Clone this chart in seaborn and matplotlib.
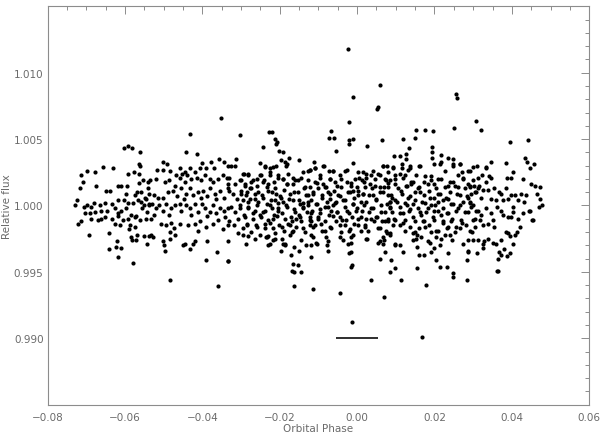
import matplotlib
matplotlib.use("Agg")
import matplotlib.pyplot as plt
import numpy as np
import pandas as pd
import seaborn as sns
from matplotlib.ticker import FixedLocator, FuncFormatter, MultipleLocator

# Light-curve points, grouped by phase strip
phase_a = [-0.0604, -0.0592, -0.0581, -0.0562, -0.0658, -0.0630, -0.0564, -0.0561, -0.0698, -0.0677, -0.0713, -0.0592, -0.0578, -0.0565, -0.0709, -0.0674, -0.0717, -0.0554, -0.0541, -0.0564, -0.0618, -0.0611, -0.0596,
           -0.0650, -0.0639, -0.0597, -0.0568, -0.0560, -0.0575, -0.0549, -0.0538,
           -0.0724, -0.0729, -0.0706, -0.0698, -0.0689, -0.0680, -0.0666, -0.0653, -0.0635, -0.0618, -0.0604, -0.0592, -0.0579, -0.0566, -0.0558, -0.0545, -0.0539,
           -0.0704, -0.0691, -0.0677, -0.0661, -0.0646, -0.0627, -0.0618, -0.0610, -0.0597, -0.0584, -0.0571, -0.0556, -0.0542, -0.0551,
           -0.0713, -0.0722, -0.0687, -0.0670, -0.0661, -0.0651, -0.0635, -0.0618, -0.0605, -0.0592, -0.0575, -0.0562, -0.0545,
           -0.0627, -0.0614, -0.0588, -0.0590, -0.0575,
           -0.0694, -0.0641, -0.0584, -0.0582, -0.0573, -0.0568, -0.0551, -0.0538, -0.0544,
           -0.0622, -0.0642, -0.0624, -0.0610, -0.0619, -0.0579]
flux_a = [1.0043, 1.0045, 1.0043, 1.0040, 1.0029, 1.0028, 1.0031, 1.0030, 1.0026, 1.0025, 1.0023, 1.0024, 1.0025, 1.0024, 1.0018, 1.0015, 1.0013, 1.0019, 1.0018, 1.0017, 1.0015, 1.0015, 1.0015,
          1.0011, 1.0011, 1.0009, 1.0010, 1.0010, 1.0008, 1.0006, 1.0009,
          1.0004, 1.0000, 0.9999, 1.0000, 0.9999, 1.0002, 1.0000, 1.0002, 1.0001, 1.0004, 1.0004, 1.0002, 1.0002, 1.0004, 1.0003, 1.0005, 1.0001,
          0.9994, 0.9994, 0.9995, 0.9996, 0.9996, 0.9998, 0.9994, 0.9996, 0.9998, 0.9993, 0.9992, 0.9998, 0.9995, 1.0000,
          0.9988, 0.9986, 0.9990, 0.9989, 0.9990, 0.9991, 0.9990, 0.9992, 0.9989, 0.9990, 0.9991, 0.9989, 0.9990,
          0.9986, 0.9985, 0.9985, 0.9982, 0.9984,
          0.9978, 0.9979, 0.9976, 0.9974, 0.9974, 0.9978, 0.9977, 0.9977, 0.9971,
          0.9973, 0.9967, 0.9969, 0.9968, 0.9961, 0.9957]

phase_b = [-0.0353, -0.0431, -0.0443, -0.0413,
           -0.0503, -0.0492, -0.0518, -0.0503, -0.0484,
           -0.0457, -0.0446, -0.0431, -0.0418, -0.0406, -0.0400, -0.0390, -0.0379, -0.0370, -0.0356, -0.0344, -0.0334,
           -0.0536, -0.0519, -0.0498, -0.0487, -0.0468, -0.0459, -0.0453, -0.0439, -0.0429, -0.0413, -0.0403, -0.0393, -0.0381, -0.0373, -0.0360, -0.0347, -0.0336, -0.0334, -0.0472, -0.0444,
           -0.0541, -0.0525, -0.0515, -0.0489, -0.0476, -0.0465, -0.0455, -0.0442, -0.0433, -0.0424, -0.0411, -0.0399, -0.0387, -0.0381, -0.0368, -0.0355, -0.0344, -0.0334, -0.0502, -0.0448, -0.0403, -0.0364,
           -0.0539, -0.0531, -0.0519, -0.0511, -0.0502, -0.0493, -0.0481, -0.0470, -0.0459, -0.0455, -0.0442, -0.0431, -0.0420, -0.0411, -0.0401, -0.0393, -0.0381, -0.0373, -0.0364, -0.0355, -0.0344, -0.0334, -0.0524, -0.0487, -0.0429, -0.0387, -0.0341,
           -0.0532, -0.0506, -0.0493, -0.0481, -0.0474, -0.0459, -0.0437, -0.0420, -0.0407, -0.0390, -0.0373, -0.0360, -0.0347, -0.0334, -0.0485, -0.0411,
           -0.0532, -0.0528, -0.0502, -0.0499, -0.0485, -0.0498, -0.0472, -0.0450, -0.0444, -0.0433, -0.0424, -0.0420, -0.0387, -0.0362, -0.0334,
           -0.0392, -0.0334, -0.0483, -0.0360]
flux_b = [1.0066, 1.0054, 1.0040, 1.0039,
          1.0033, 1.0031, 1.0027, 1.0027, 1.0026,
          1.0028, 1.0025, 1.0028, 1.0025, 1.0028, 1.0032, 1.0028, 1.0033, 1.0028, 1.0035, 1.0033, 1.0030,
          1.0019, 1.0020, 1.0018, 1.0019, 1.0023, 1.0021, 1.0024, 1.0023, 1.0020, 1.0021, 1.0019, 1.0023, 1.0020, 1.0018, 1.0020, 1.0023, 1.0021, 1.0016, 1.0015, 1.0018,
          1.0013, 1.0008, 1.0006, 1.0010, 1.0011, 1.0007, 1.0013, 1.0009, 1.0013, 1.0008, 1.0010, 1.0011, 1.0007, 1.0013, 1.0009, 1.0011, 1.0006, 1.0013, 1.0006, 1.0005, 1.0006, 1.0005,
          1.0000, 1.0001, 0.9998, 1.0000, 0.9996, 1.0001, 0.9998, 1.0000, 1.0001, 0.9996, 1.0000, 0.9998, 1.0001, 0.9995, 1.0001, 0.9998, 0.9995, 1.0000, 0.9994, 0.9998, 0.9996, 0.9998, 0.9993, 0.9993, 0.9993, 0.9992, 0.9991,
          0.9990, 0.9986, 0.9985, 0.9987, 0.9983, 0.9986, 0.9985, 0.9986, 0.9988, 0.9984, 0.9986, 0.9989, 0.9982, 0.9985, 0.9980, 0.9981,
          0.9978, 0.9976, 0.9973, 0.9970, 0.9975, 0.9966, 0.9978, 0.9970, 0.9971, 0.9967, 0.9971, 0.9973, 0.9973, 0.9965, 0.9973,
          0.9959, 0.9958, 0.9944, 0.9939]

phase_c = [-0.0302, -0.0227, -0.0220, -0.0213, -0.0206, -0.0211, -0.0201, -0.0192, -0.0244,
           -0.0325, -0.0315, -0.0312, -0.0252, -0.0239, -0.0224, -0.0211, -0.0198, -0.0186, -0.0175, -0.0151, -0.0184,
           -0.0330, -0.0304, -0.0293, -0.0282, -0.0274, -0.0258, -0.0248, -0.0241, -0.0226, -0.0215, -0.0205, -0.0192, -0.0179, -0.0166, -0.0153, -0.0140, -0.0127, -0.0127, -0.0317, -0.0291, -0.0231, -0.0181,
           -0.0332, -0.0321, -0.0310, -0.0300, -0.0287, -0.0275, -0.0265, -0.0255, -0.0244, -0.0231, -0.0222, -0.0209, -0.0196, -0.0188, -0.0175, -0.0162, -0.0151, -0.0138, -0.0127, -0.0282, -0.0205, -0.0140,
           -0.0327, -0.0317, -0.0304, -0.0293, -0.0281, -0.0269, -0.0258, -0.0248, -0.0238, -0.0226, -0.0215, -0.0205, -0.0194, -0.0183, -0.0172, -0.0162, -0.0150, -0.0140, -0.0129, -0.0123, -0.0308, -0.0218, -0.0158,
           -0.0330, -0.0318, -0.0308, -0.0295, -0.0284, -0.0274, -0.0261, -0.0250, -0.0238, -0.0224, -0.0213, -0.0203, -0.0189, -0.0179, -0.0169, -0.0157, -0.0146, -0.0134, -0.0123, -0.0231, -0.0282,
           -0.0287, -0.0235, -0.0226, -0.0213, -0.0194, -0.0231, -0.0196, -0.0186, -0.0162, -0.0149, -0.0132, -0.0334, -0.0170, -0.0166, -0.0153,
           -0.0169, -0.0162, -0.0146, -0.0164]
flux_c = [1.0053, 1.0055, 1.0055, 1.0050, 1.0048, 1.0046, 1.0041, 1.0040, 1.0044,
          1.0030, 1.0030, 1.0035, 1.0032, 1.0029, 1.0028, 1.0030, 1.0034, 1.0033, 1.0036, 1.0034, 1.0030,
          1.0021, 1.0019, 1.0024, 1.0024, 1.0018, 1.0020, 1.0023, 1.0019, 1.0025, 1.0018, 1.0023, 1.0020, 1.0024, 1.0021, 1.0019, 1.0025, 1.0026, 1.0019, 1.0016, 1.0015, 1.0016, 1.0016,
          1.0011, 1.0009, 1.0005, 1.0011, 1.0008, 1.0013, 1.0005, 1.0010, 1.0006, 1.0011, 1.0004, 1.0009, 1.0006, 1.0012, 1.0005, 1.0010, 1.0004, 1.0013, 1.0008, 1.0003, 1.0002, 1.0002,
          0.9999, 0.9995, 1.0000, 0.9993, 0.9998, 0.9994, 1.0000, 0.9991, 0.9996, 1.0000, 0.9993, 0.9998, 0.9994, 1.0000, 0.9991, 0.9997, 0.9993, 0.9999, 0.9995, 0.9991, 0.9990, 0.9990, 0.9990,
          0.9988, 0.9985, 0.9979, 0.9983, 0.9986, 0.9980, 0.9985, 0.9978, 0.9983, 0.9987, 0.9979, 0.9985, 0.9981, 0.9986, 0.9980, 0.9984, 0.9988, 0.9980, 0.9985, 0.9977, 0.9977,
          0.9971, 0.9976, 0.9971, 0.9975, 0.9975, 0.9970, 0.9966, 0.9971, 0.9969, 0.9966, 0.9970, 0.9958, 0.9963, 0.9956, 0.9955,
          0.9951, 0.9950, 0.9950, 0.9939]

phase_d = [-0.0024, 0.0059, -0.0011, 0.0052, 0.0054, -0.0021, -0.0067, -0.0073, -0.0060, -0.0021, -0.0011, -0.0021, 0.0026, 0.0064, -0.0055,
           -0.0112, -0.0086, -0.0123, -0.0108, -0.0011, 0.0067, 0.0077,
           -0.0097, -0.0074, -0.0063, -0.0071, -0.0032, 0.0002, 0.0006, 0.0023, 0.0036, 0.0045, 0.0058, 0.0080, -0.0110, -0.0089, -0.0058, -0.0017, 0.0019, 0.0075, -0.0041,
           -0.0123, -0.0114, -0.0101, -0.0091, -0.0080, -0.0069, -0.0060, -0.0050, -0.0041, -0.0032, -0.0024, -0.0015, -0.0007, 0.0002, 0.0011, 0.0021, 0.0030, 0.0038, 0.0049, 0.0058, 0.0069, 0.0080, -0.0119, -0.0076, -0.0011, 0.0045, 0.0084, -0.0054, 0.0015,
           -0.0127, -0.0117, -0.0106, -0.0095, -0.0084, -0.0074, -0.0063, -0.0051, -0.0043, -0.0032, -0.0022, -0.0011, -0.0002, 0.0009, 0.0019, 0.0030, 0.0041, 0.0052, 0.0062, 0.0073, 0.0084, -0.0101, -0.0067, 0.0002, 0.0037, 0.0080, -0.0028,
           -0.0120, -0.0110, -0.0093, -0.0082, -0.0067, -0.0054, -0.0041, -0.0031, -0.0020, -0.0007, 0.0009, 0.0021, 0.0028, 0.0043, 0.0054, 0.0064, 0.0075, -0.0114, -0.0080, -0.0037, -0.0015, 0.0026, 0.0067, 0.0084,
           -0.0120, -0.0106, -0.0077, -0.0076, -0.0017, -0.0015, 0.0058, 0.0069, 0.0073, -0.0119, -0.0020, 0.0058, -0.0015,
           0.0036, -0.0114, -0.0043, 0.0070, -0.0013, 0.0169, -0.0014]
flux_d = [1.0118, 1.0091, 1.0082, 1.0073, 1.0074, 1.0063, 1.0056, 1.0051, 1.0051, 1.0049, 1.0050, 1.0046, 1.0045, 1.0049, 1.0041,
          1.0033, 1.0030, 1.0027, 1.0028, 1.0032, 1.0030, 1.0030,
          1.0023, 1.0026, 1.0026, 1.0020, 1.0026, 1.0025, 1.0021, 1.0024, 1.0023, 1.0020, 1.0023, 1.0025, 1.0018, 1.0016, 1.0018, 1.0017, 1.0018, 1.0019, 1.0020,
          1.0014, 1.0010, 1.0013, 1.0008, 1.0014, 1.0005, 1.0011, 1.0008, 1.0014, 1.0004, 1.0010, 1.0015, 1.0006, 1.0011, 1.0003, 1.0014, 1.0008, 1.0013, 1.0005, 1.0010, 1.0014, 1.0008, 1.0004, 1.0010, 1.0011, 1.0015, 1.0003, 1.0003, 1.0009,
          1.0000, 0.9996, 1.0001, 0.9994, 0.9999, 0.9993, 1.0000, 0.9995, 0.9991, 0.9999, 0.9994, 1.0001, 0.9996, 0.9991, 1.0000, 0.9995, 0.9998, 0.9991, 1.0000, 0.9995, 0.9999, 0.9990, 0.9996, 0.9990, 0.9990, 0.9990, 0.9989,
          0.9988, 0.9985, 0.9986, 0.9981, 0.9983, 0.9988, 0.9980, 0.9985, 0.9981, 0.9986, 0.9981, 0.9985, 0.9981, 0.9988, 0.9983, 0.9988, 0.9981, 0.9976, 0.9976, 0.9974, 0.9976, 0.9975, 0.9976, 0.9978,
          0.9970, 0.9972, 0.9970, 0.9966, 0.9972, 0.9965, 0.9973, 0.9974, 0.9965, 0.9961, 0.9964, 0.9960, 0.9954,
          0.9944, 0.9937, 0.9934, 0.9931, 0.9912, 0.9901, 0.9955]

phase_e = [0.0255, 0.0257, 0.0152, 0.0176, 0.0196, 0.0250, 0.0118, 0.0150, 0.0133, 0.0193, 0.0194, 0.0127,
           0.0095, 0.0112, 0.0127, 0.0194, 0.0217, 0.0236, 0.0248, 0.0217, 0.0200, 0.0265, 0.0248, 0.0161,
           0.0093, 0.0116, 0.0131, 0.0136, 0.0110, 0.0097, 0.0084, 0.0123, 0.0153, 0.0190, 0.0209, 0.0226, 0.0262, 0.0271, 0.0286, 0.0273, 0.0174, 0.0138, 0.0239,
           0.0080, 0.0099, 0.0114, 0.0127, 0.0140, 0.0149, 0.0161, 0.0173, 0.0187, 0.0200, 0.0213, 0.0226, 0.0239, 0.0252, 0.0265, 0.0278, 0.0291, 0.0088, 0.0131, 0.0200, 0.0235, 0.0286,
           0.0084, 0.0097, 0.0110, 0.0123, 0.0133, 0.0144, 0.0157, 0.0168, 0.0179, 0.0190, 0.0200, 0.0209, 0.0222, 0.0233, 0.0243, 0.0256, 0.0267, 0.0280, 0.0291, 0.0118, 0.0166, 0.0218, 0.0090,
           0.0080, 0.0095, 0.0110, 0.0123, 0.0136, 0.0149, 0.0161, 0.0174, 0.0187, 0.0200, 0.0209, 0.0222, 0.0233, 0.0243, 0.0256, 0.0269, 0.0282, 0.0291, 0.0144, 0.0192, 0.0252,
           0.0084, 0.0099, 0.0110, 0.0153, 0.0155, 0.0161, 0.0183, 0.0205, 0.0200, 0.0217, 0.0226, 0.0239, 0.0174, 0.0192, 0.0205, 0.0235, 0.0213, 0.0155, 0.0233, 0.0248, 0.0248, 0.0118, 0.0088, 0.0084, 0.0099, 0.0286, 0.0285,
           0.0114, 0.0179, 0.0285, 0.0363]
flux_e = [1.0084, 1.0081, 1.0057, 1.0057, 1.0056, 1.0058, 1.0050, 1.0051, 1.0043, 1.0044, 1.0040, 1.0039,
          1.0037, 1.0037, 1.0035, 1.0036, 1.0038, 1.0036, 1.0035, 1.0033, 1.0031, 1.0031, 1.0031, 1.0030,
          1.0028, 1.0028, 1.0027, 1.0030, 1.0024, 1.0020, 1.0019, 1.0023, 1.0023, 1.0022, 1.0020, 1.0026, 1.0023, 1.0025, 1.0026, 1.0020, 1.0018, 1.0018, 1.0018,
          1.0014, 1.0016, 1.0011, 1.0015, 1.0016, 1.0010, 1.0014, 1.0008, 1.0011, 1.0016, 1.0009, 1.0014, 1.0010, 1.0015, 1.0008, 1.0013, 1.0015, 1.0008, 1.0006, 1.0006, 1.0005, 1.0006,
          1.0003, 1.0004, 0.9999, 1.0002, 0.9996, 1.0001, 0.9998, 1.0003, 0.9995, 1.0000, 0.9996, 1.0003, 0.9998, 0.9994, 1.0001, 0.9996, 1.0000, 0.9995, 1.0002, 0.9994, 0.9993, 0.9993, 0.9995,
          0.9988, 0.9990, 0.9985, 0.9989, 0.9984, 0.9988, 0.9983, 0.9988, 0.9985, 0.9989, 0.9981, 0.9987, 0.9983, 0.9988, 0.9984, 0.9989, 0.9985, 0.9981, 0.9979, 0.9980, 0.9980,
          0.9979, 0.9971, 0.9970, 0.9975, 0.9969, 0.9963, 0.9973, 0.9976, 0.9968, 0.9975, 0.9978, 0.9978, 0.9963, 0.9965, 0.9959, 0.9964, 0.9954, 0.9953, 0.9954, 0.9949, 0.9946, 0.9965, 0.9959, 0.9950, 0.9953, 0.9965, 0.9959,
          0.9944, 0.9940, 0.9944, 0.9951]

phase_f = [0.0308, 0.0321, 0.0395, 0.0441, 0.0434, 0.0440, 0.0457, 0.0448,
           0.0299, 0.0310, 0.0332, 0.0334, 0.0346, 0.0385, 0.0403, 0.0428,
           0.0312, 0.0322, 0.0334, 0.0345, 0.0342, 0.0388, 0.0397, 0.0450, 0.0459, 0.0472, 0.0466,
           0.0291, 0.0302, 0.0314, 0.0325, 0.0338, 0.0355, 0.0366, 0.0372, 0.0385, 0.0397, 0.0407, 0.0424, 0.0437, 0.0295, 0.0308, 0.0319, 0.0347, 0.0360, 0.0377, 0.0390, 0.0416, 0.0431, 0.0291, 0.0474, 0.0469, 0.0478,
           0.0295, 0.0308, 0.0321, 0.0334, 0.0347, 0.0362, 0.0372, 0.0377, 0.0390, 0.0403, 0.0403, 0.0416, 0.0428, 0.0446, 0.0454, 0.0304, 0.0317, 0.0325, 0.0338, 0.0351, 0.0355, 0.0304, 0.0398,
           0.0286, 0.0312, 0.0325, 0.0329, 0.0338, 0.0351, 0.0360, 0.0371, 0.0385, 0.0390, 0.0394, 0.0407, 0.0414, 0.0420, 0.0403, 0.0286, 0.0310, 0.0325, 0.0368, 0.0371, 0.0381, 0.0388, 0.0394, 0.0364, 0.0362,
           0.0453, 0.0444]
flux_f = [1.0064, 1.0057, 1.0048, 1.0049, 1.0036, 1.0033, 1.0031, 1.0028,
          1.0029, 1.0030, 1.0029, 1.0028, 1.0033, 1.0032, 1.0025, 1.0020,
          1.0021, 1.0023, 1.0018, 1.0021, 1.0022, 1.0021, 1.0021, 1.0016, 1.0015, 1.0014, 1.0009,
          1.0014, 1.0015, 1.0015, 1.0012, 1.0012, 1.0013, 1.0010, 1.0009, 1.0013, 1.0008, 1.0008, 1.0009, 1.0008, 1.0009, 1.0010, 1.0006, 1.0005, 1.0004, 1.0004, 1.0005, 1.0004, 1.0003, 1.0003, 1.0005, 0.9999, 1.0000,
          0.9999, 0.9996, 0.9993, 0.9998, 0.9994, 0.9999, 0.9996, 0.9993, 0.9991, 0.9999, 0.9995, 0.9990, 0.9994, 0.9996, 0.9989, 0.9990, 0.9989, 0.9985, 0.9986, 0.9989, 0.9984, 0.9984, 0.9991,
          0.9974, 0.9974, 0.9971, 0.9973, 0.9975, 0.9972, 0.9971, 0.9974, 0.9980, 0.9979, 0.9977, 0.9978, 0.9980, 0.9984, 0.9971, 0.9966, 0.9964, 0.9968, 0.9965, 0.9963, 0.9967, 0.9962, 0.9964, 0.9960, 0.9951,
          0.9989, 0.9996]

# extra points from the crowded core, phase -0.030 .. 0.000
phase_g = [-0.0238, -0.0217, -0.0182, -0.0122, -0.0109, -0.0088, -0.0062, -0.0027, -0.0294, -0.0281,
           -0.0251, -0.0225, -0.0204, -0.0191, -0.0161, -0.0144, -0.0096, -0.0070, -0.0045, -0.0006, -0.0299, -0.0269, -0.0243,
           -0.0290, -0.0260, -0.0234, -0.0213, -0.0182, -0.0165, -0.0135, -0.0105, -0.0083, -0.0053, -0.0027, -0.0001, -0.0277,
           -0.0299, -0.0286, -0.0264, -0.0247, -0.0221, -0.0200, -0.0174, -0.0152, -0.0131, -0.0113, -0.0092, -0.0070, -0.0045, -0.0019, 0.0003,
           -0.0294, -0.0277, -0.0256, -0.0234, -0.0213, -0.0191, -0.0165, -0.0148, -0.0126, -0.0105, -0.0079, -0.0057, -0.0036, -0.0010,
           -0.0303, -0.0281, -0.0264, -0.0243, -0.0221, -0.0204, -0.0182, -0.0161, -0.0139, -0.0118, -0.0096, -0.0075, -0.0053, -0.0027, -0.0001,
           -0.0290, -0.0269, -0.0251, -0.0230, -0.0208, -0.0187, -0.0169, -0.0148, -0.0122, -0.0101, -0.0083, -0.0062, -0.0040, -0.0014,
           -0.0286, -0.0260, -0.0238, -0.0217, -0.0195, -0.0174, -0.0165, -0.0139, -0.0113, -0.0092, -0.0070, -0.0045, -0.0019, 0.0003,
           -0.0294, -0.0264, -0.0234, -0.0217, -0.0191, -0.0187, -0.0174, -0.0144, -0.0118, -0.0105, -0.0075, -0.0045, -0.0023, -0.0010]
flux_g = [1.0030, 1.0029, 1.0031, 1.0027, 1.0028, 1.0030, 1.0026, 1.0027, 1.0024, 1.0023,
          1.0023, 1.0023, 1.0021, 1.0020, 1.0019, 1.0021, 1.0021, 1.0020, 1.0023, 1.0020, 1.0019, 1.0019, 1.0018,
          1.0016, 1.0015, 1.0014, 1.0013, 1.0016, 1.0016, 1.0014, 1.0017, 1.0014, 1.0015, 1.0018, 1.0014, 1.0013,
          1.0009, 1.0010, 1.0009, 1.0008, 1.0010, 1.0007, 1.0009, 1.0010, 1.0008, 1.0009, 1.0006, 1.0009, 1.0007, 1.0010, 1.0008,
          1.0004, 1.0005, 1.0003, 1.0001, 1.0004, 1.0003, 1.0004, 1.0001, 1.0003, 1.0001, 1.0003, 1.0002, 1.0004, 1.0001,
          0.9998, 0.9999, 0.9996, 0.9995, 0.9998, 0.9996, 0.9999, 0.9995, 0.9998, 0.9994, 0.9997, 0.9999, 0.9995, 0.9996, 0.9998,
          0.9991, 0.9990, 0.9993, 0.9989, 0.9992, 0.9990, 0.9988, 0.9991, 0.9989, 0.9991, 0.9988, 0.9992, 0.9989, 0.9991,
          0.9985, 0.9984, 0.9986, 0.9983, 0.9984, 0.9985, 0.9981, 0.9983, 0.9984, 0.9981, 0.9984, 0.9985, 0.9982, 0.9985,
          0.9978, 0.9975, 0.9976, 0.9974, 0.9971, 0.9970, 0.9978, 0.9974, 0.9978, 0.9971, 0.9973, 0.9976, 0.9971, 0.9978]

# extra points from the crowded core, phase 0.000 .. 0.031
phase_h = [0.0067, 0.0093, 0.0115, 0.0136, 0.0162, 0.0214, 0.0248, 0.0266, 0.0291, 0.0016, 0.0041,
           0.0024, 0.0054, 0.0072, 0.0098, 0.0119, 0.0145, 0.0175, 0.0192, 0.0218, 0.0248, 0.0274, 0.0300, 0.0012,
           0.0033, 0.0059, 0.0080, 0.0106, 0.0128, 0.0158, 0.0184, 0.0205, 0.0236, 0.0261, 0.0287, 0.0313,
           0.0016, 0.0041, 0.0067, 0.0089, 0.0115, 0.0136, 0.0162, 0.0188, 0.0210, 0.0231, 0.0257, 0.0283, 0.0304,
           0.0024, 0.0050, 0.0076, 0.0102, 0.0128, 0.0149, 0.0175, 0.0201, 0.0223, 0.0248, 0.0274, 0.0300,
           0.0012, 0.0037, 0.0063, 0.0085, 0.0111, 0.0136, 0.0162, 0.0184, 0.0210, 0.0236, 0.0261, 0.0287, 0.0313,
           0.0024, 0.0050, 0.0072, 0.0098, 0.0119, 0.0145, 0.0171, 0.0197, 0.0223, 0.0244, 0.0270, 0.0300,
           0.0020, 0.0059, 0.0093, 0.0124, 0.0149, 0.0175, 0.0205, 0.0236, 0.0266, 0.0296, 0.0076, 0.0154,
           0.0024, 0.0054, 0.0067, 0.0098, 0.0145, 0.0166, 0.0188, 0.0214, 0.0244, 0.0274, 0.0300]
flux_h = [1.0030, 1.0029, 1.0031, 1.0028, 1.0030, 1.0031, 1.0030, 1.0031, 1.0026, 1.0025, 1.0026,
          1.0021, 1.0024, 1.0020, 1.0023, 1.0021, 1.0018, 1.0022, 1.0019, 1.0020, 1.0018, 1.0021, 1.0019, 1.0019,
          1.0016, 1.0014, 1.0017, 1.0013, 1.0015, 1.0013, 1.0016, 1.0013, 1.0015, 1.0014, 1.0016, 1.0013,
          1.0009, 1.0008, 1.0010, 1.0006, 1.0009, 1.0007, 1.0010, 1.0006, 1.0009, 1.0006, 1.0009, 1.0007, 1.0010,
          1.0003, 1.0004, 1.0001, 1.0003, 1.0000, 1.0004, 1.0002, 1.0000, 1.0004, 1.0001, 1.0003, 1.0000,
          0.9996, 0.9998, 0.9995, 0.9998, 0.9994, 0.9997, 0.9995, 0.9998, 0.9996, 0.9994, 0.9998, 0.9995, 0.9996,
          0.9990, 0.9991, 0.9988, 0.9989, 0.9987, 0.9991, 0.9988, 0.9991, 0.9988, 0.9990, 0.9987, 0.9989,
          0.9984, 0.9983, 0.9985, 0.9981, 0.9980, 0.9984, 0.9981, 0.9984, 0.9983, 0.9980, 0.9979, 0.9978,
          0.9975, 0.9972, 0.9971, 0.9970, 0.9974, 0.9976, 0.9972, 0.9970, 0.9974, 0.9971, 0.9974]

# in-transit marker row drawn as tiny dots
transit_phase = [-0.0052, -0.0047, -0.0043, -0.0038, -0.0034, -0.0031, -0.0029, -0.0027, -0.0025, -0.0023,
                 -0.0021, -0.0019, -0.0017, -0.0015, -0.0013, -0.0011, -0.0009, -0.0007, -0.0005, -0.0003,
                 -0.0001, 0.0001, 0.0003, 0.0005, 0.0007, 0.0009, 0.0011, 0.0013, 0.0015, 0.0017,
                 0.0019, 0.0021, 0.0023, 0.0025, 0.0027, 0.0030, 0.0033, 0.0037, 0.0042, 0.0047, 0.0052]
transit_level = 0.990

y_labelled = [0.990, 0.995, 1.000, 1.005, 1.010]

AXIS_GREY = "#8c8c8c"
TEXT_GREY = "#6a6a6a"

sns.set_theme(style="white")
plt.rcParams["font.family"] = ["DejaVu Sans"]

df = pd.DataFrame({
    "phase": np.concatenate([phase_a, phase_b, phase_c, phase_d, phase_e, phase_f, phase_g, phase_h]),
    "flux": np.concatenate([flux_a, flux_b, flux_c, flux_d, flux_e, flux_f, flux_g, flux_h]),
})
transit = pd.DataFrame({"phase": transit_phase, "flux": transit_level})

fig = plt.figure(figsize=(6, 4.35), dpi=100)
ax = fig.add_axes([0.0795, 0.0674, 0.9025, 0.9158])

sns.scatterplot(data=df, x="phase", y="flux", color="black", s=9, linewidth=0, ax=ax, legend=False)
sns.scatterplot(data=transit, x="phase", y="flux", color="#333333", s=0.7, marker="s", linewidth=0, ax=ax, legend=False)

ax.set_xlim(-0.08, 0.06)
ax.set_ylim(0.985, 1.015)
ax.xaxis.set_major_locator(MultipleLocator(0.02))
ax.xaxis.set_minor_locator(MultipleLocator(0.005))
ax.yaxis.set_major_locator(FixedLocator(y_labelled))
ax.yaxis.set_minor_locator(MultipleLocator(0.001))
ax.xaxis.set_major_formatter(FuncFormatter(lambda v, _: f"{v:.2f}".replace("-", "\u2212")))
ax.yaxis.set_major_formatter(FuncFormatter(lambda v, _: f"{v:.3f}"))

ax.tick_params(which="both", direction="in", top=True, right=True, color=AXIS_GREY,
               labelcolor=TEXT_GREY, labelsize=7.5, width=0.7)
ax.tick_params(which="major", length=6)
ax.tick_params(which="minor", length=3)
ax.tick_params(axis="x", pad=5)
ax.tick_params(axis="y", pad=3)
for side in ax.spines.values():
    side.set_color(AXIS_GREY)
    side.set_linewidth(0.8)

ax.set_xlabel("Orbital Phase", color=TEXT_GREY, fontsize=7.5, labelpad=1)
ax.set_ylabel("Relative flux", color=TEXT_GREY, fontsize=7.5)
ax.yaxis.set_label_coords(-0.066, 0.5)

fig.savefig("out.png", dpi=100)
plt.close(fig)
